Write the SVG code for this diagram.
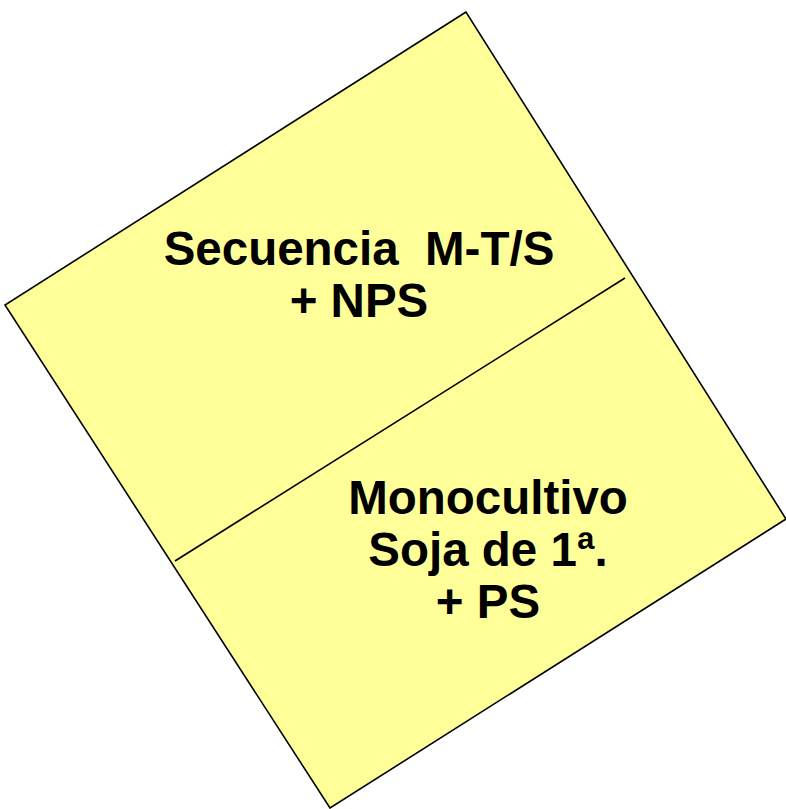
<svg xmlns="http://www.w3.org/2000/svg" width="786" height="809" viewBox="0 0 786 809">
<style>
.box{fill:#FFFF99;stroke:#000;stroke-width:1.6}
.div{stroke:#000;stroke-width:1.6;fill:none}
.t{font-family:"Liberation Sans",Arial,sans-serif;font-weight:bold;font-size:47.5px;fill:#000;text-anchor:middle}
</style>
<rect width="786" height="809" fill="#fff"/>
<g id="field">
<polygon class="box" points="466,12 5,305 330,808 786,519"/>
</g>
<g id="connectors">
<line class="div" x1="175" y1="561" x2="625" y2="278"/>
</g>
<g id="top-label">
<text class="t" x="359" y="265" xml:space="preserve">Secuencia  M-T/S</text>
<text class="t" x="359" y="317">+ NPS</text>
</g>
<g id="bottom-label">
<text class="t" x="488" y="514">Monocultivo</text>
<text class="t" x="488" y="566">Soja de 1ª.</text>
<text class="t" x="488" y="618">+ PS</text>
</g>
</svg>
